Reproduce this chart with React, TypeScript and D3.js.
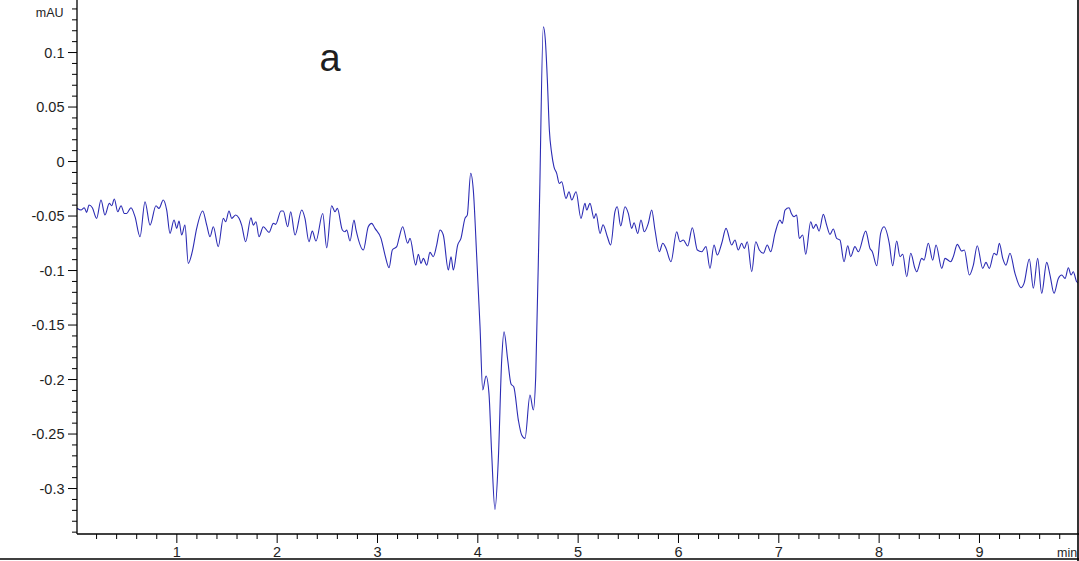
import React from "react";
import * as d3 from "d3";

// retention time (min)
const times: number[] = [
  0.005, 0.045, 0.078, 0.101, 0.125, 0.158, 0.201, 0.244, 0.284, 0.327, 0.351, 0.377, 0.411, 0.444, 0.477, 0.5,
  0.543, 0.583, 0.633, 0.683, 0.733, 0.792, 0.822, 0.865, 0.899, 0.932, 0.972, 0.999, 1.022, 1.048, 1.081, 1.114,
  1.154, 1.198, 1.258, 1.298, 1.331, 1.364, 1.413, 1.463, 1.487, 1.52, 1.547, 1.587, 1.62, 1.646, 1.686, 1.739,
  1.762, 1.789, 1.819, 1.862, 1.919, 1.962, 1.985, 2.038, 2.061, 2.105, 2.135, 2.178, 2.245, 2.277, 2.317, 2.35,
  2.387, 2.454, 2.494, 2.543, 2.577, 2.6, 2.65, 2.676, 2.693, 2.726, 2.766, 2.786, 2.859, 2.908, 2.942, 2.975,
  3.035, 3.075, 3.115, 3.148, 3.192, 3.214, 3.251, 3.301, 3.324, 3.381, 3.407, 3.434, 3.457, 3.491, 3.523, 3.556,
  3.59, 3.623, 3.656, 3.706, 3.733, 3.756, 3.799, 3.832, 3.872, 3.895, 3.929, 3.955, 3.989, 4.022, 4.049, 4.082,
  4.111, 4.138, 4.171, 4.204, 4.238, 4.261, 4.298, 4.331, 4.358, 4.404, 4.437, 4.47, 4.52, 4.553, 4.577, 4.615,
  4.653, 4.673, 4.693, 4.713, 4.736, 4.759, 4.786, 4.812, 4.836, 4.879, 4.909, 4.936, 4.979, 5.028, 5.068, 5.085,
  5.118, 5.158, 5.178, 5.218, 5.248, 5.291, 5.324, 5.367, 5.39, 5.424, 5.467, 5.5, 5.534, 5.557, 5.594, 5.626,
  5.659, 5.699, 5.733, 5.766, 5.809, 5.843, 5.876, 5.925, 5.982, 6.015, 6.048, 6.092, 6.138, 6.188, 6.231, 6.274,
  6.314, 6.354, 6.387, 6.431, 6.474, 6.53, 6.563, 6.596, 6.63, 6.656, 6.686, 6.73, 6.77, 6.806, 6.846, 6.885,
  6.919, 6.962, 7.011, 7.035, 7.062, 7.102, 7.125, 7.151, 7.178, 7.204, 7.238, 7.268, 7.318, 7.344, 7.371, 7.401,
  7.444, 7.477, 7.51, 7.543, 7.577, 7.61, 7.65, 7.687, 7.716, 7.759, 7.793, 7.866, 7.909, 7.932, 7.976, 8.015,
  8.048, 8.101, 8.135, 8.175, 8.208, 8.235, 8.275, 8.315, 8.357, 8.374, 8.424, 8.447, 8.49, 8.534, 8.567, 8.624,
  8.657, 8.713, 8.739, 8.779, 8.823, 8.849, 8.899, 8.939, 8.978, 9.032, 9.065, 9.098, 9.145, 9.172, 9.198, 9.232,
  9.264, 9.304, 9.354, 9.414, 9.444, 9.497, 9.537, 9.58, 9.62, 9.67, 9.703, 9.743, 9.786, 9.82, 9.853, 9.886,
  9.913, 9.935, 9.969, 10.0,
];

// absorbance (mAU)
const signal: number[] = [
  -0.0429, -0.0445, -0.0424, -0.0466, -0.0399, -0.0424, -0.0521, -0.0353, -0.0491, -0.0384, -0.0405, -0.0344, -0.046, -0.0405, -0.0476, -0.0476,
  -0.0424, -0.0506, -0.069, -0.0369, -0.0583, -0.0405, -0.043, -0.0353, -0.0445, -0.0659, -0.0537, -0.0613, -0.0546, -0.0674, -0.0583, -0.0934,
  -0.0827, -0.0613, -0.0454, -0.0583, -0.069, -0.0598, -0.0781, -0.0521, -0.0552, -0.0454, -0.0521, -0.0491, -0.0521, -0.0583, -0.0736, -0.0516,
  -0.0583, -0.0552, -0.069, -0.0598, -0.065, -0.0567, -0.0576, -0.0454, -0.0454, -0.0598, -0.046, -0.0674, -0.0445, -0.0521, -0.0736, -0.0638,
  -0.0729, -0.0476, -0.0791, -0.0405, -0.046, -0.043, -0.0628, -0.0644, -0.0628, -0.0729, -0.0537, -0.0628, -0.0812, -0.0598, -0.0567, -0.0613,
  -0.0705, -0.0858, -0.0974, -0.0812, -0.0781, -0.0705, -0.0598, -0.075, -0.0705, -0.095, -0.0851, -0.0934, -0.0888, -0.095, -0.0833, -0.0873,
  -0.0766, -0.0628, -0.0674, -0.0995, -0.0873, -0.0995, -0.0766, -0.0705, -0.0521, -0.0491, -0.0108, -0.0261, -0.0873, -0.1516, -0.2096, -0.1968,
  -0.2127, -0.2677, -0.3191, -0.2739, -0.1821, -0.1561, -0.1821, -0.2041, -0.2066, -0.2372, -0.2509, -0.254, -0.2142, -0.228, -0.1974, -0.037,
  0.1237, 0.1115, 0.0748, 0.0289, 0.0075, -0.0048, -0.0108, -0.02, -0.0185, -0.0338, -0.0277, -0.0353, -0.0277, -0.0521, -0.0384, -0.0445,
  -0.0384, -0.0521, -0.0476, -0.0659, -0.058, -0.069, -0.0766, -0.046, -0.0415, -0.0592, -0.0415, -0.0476, -0.0613, -0.0561, -0.0659, -0.0537,
  -0.0644, -0.0567, -0.0445, -0.0628, -0.0827, -0.075, -0.0797, -0.0919, -0.0644, -0.0736, -0.072, -0.0775, -0.0607, -0.0812, -0.0827, -0.0781,
  -0.098, -0.0766, -0.0858, -0.075, -0.0613, -0.0766, -0.072, -0.0812, -0.075, -0.0797, -0.0736, -0.1011, -0.0736, -0.0812, -0.0842, -0.0766,
  -0.0827, -0.0659, -0.0537, -0.0567, -0.0445, -0.0424, -0.0476, -0.0506, -0.0491, -0.0705, -0.0674, -0.0851, -0.0552, -0.0613, -0.0576, -0.0638,
  -0.0485, -0.0583, -0.0668, -0.0619, -0.0705, -0.072, -0.0919, -0.0772, -0.0873, -0.0781, -0.0827, -0.0638, -0.0797, -0.0827, -0.0956, -0.0659,
  -0.0598, -0.075, -0.0956, -0.0729, -0.0873, -0.0851, -0.1057, -0.0842, -0.098, -0.1011, -0.0888, -0.0904, -0.075, -0.0904, -0.0766, -0.098,
  -0.0888, -0.0919, -0.0873, -0.076, -0.0821, -0.0812, -0.1041, -0.095, -0.0772, -0.098, -0.0925, -0.098, -0.0842, -0.0858, -0.075, -0.0888,
  -0.095, -0.0842, -0.1026, -0.1158, -0.1118, -0.0894, -0.1163, -0.0888, -0.1209, -0.0925, -0.1041, -0.1209, -0.1072, -0.1041, -0.1072, -0.0974,
  -0.1041, -0.1011, -0.1103, -0.112,
];

const xMajorTicks: number[] = [1, 2, 3, 4, 5, 6, 7, 8, 9];
const yMajorTicks: number[] = [0.1, 0.05, 0, -0.05, -0.1, -0.15, -0.2, -0.25, -0.3];
const yTickLabels: string[] = ["0.1", "0.05", "0", "-0.05", "-0.1", "-0.15", "-0.2", "-0.25", "-0.3"];
const xUnit = "min";
const yUnit = "mAU";
const panelLabel = "a";

const W = 1079;
const H = 561;
const axisX = 77;
const axisY = 534;

export default function App() {
  const x = d3.scaleLinear().domain([0, 10]).range([76.5, 1079.8]);
  const y = d3.scaleLinear().domain([-0.3417, 0.1482]).range([axisY, 0]);

  const pts: [number, number][] = times.map((t, i) => [t, signal[i]]);
  const line = d3
    .line<[number, number]>()
    .x((d) => x(d[0]))
    .y((d) => y(d[1]))
    .curve(d3.curveMonotoneX);

  const xMinor = d3.range(1, 50).map((i) => i * 0.2).filter((v) => Math.abs(v - Math.round(v)) > 1e-6);
  const yMinor = d3.range(-34, 15).map((i) => i / 100).filter((v) => Math.abs(v * 20 - Math.round(v * 20)) > 1e-6);

  const font = "Arial, 'Liberation Sans', Helvetica, sans-serif";
  const textColor = "#1e1e1e";

  return (
    <svg
      width={W}
      height={H}
      style={{ position: "absolute", left: 0, top: 0, background: "#fff" }}
      fontFamily={font}
    >
      <rect x={0} y={0} width={W} height={H} fill="#fff" />
      <defs>
        <clipPath id="plotclip">
          <rect x={axisX} y={0} width={1078 - axisX} height={axisY} />
        </clipPath>
      </defs>

      {/* trace */}
      <path d={line(pts) || ""} fill="none" stroke="#2c2cb4" strokeWidth={1.1} clipPath="url(#plotclip)" />

      {/* y axis */}
      <line x1={axisX} x2={axisX} y1={0} y2={axisY} stroke="#000" strokeWidth={1.3} />
      {yMinor.map((v, i) => (
        <line key={"ym" + i} x1={axisX - 5} x2={axisX} y1={y(v)} y2={y(v)} stroke="#000" strokeWidth={1} />
      ))}
      {yMajorTicks.map((v, i) => (
        <g key={"yM" + i}>
          <line x1={axisX - 9} x2={axisX} y1={y(v)} y2={y(v)} stroke="#000" strokeWidth={1} />
          <text x={64.5} y={y(v)} dy="0.36em" textAnchor="end" fontSize={14.5} fill={textColor}>
            {yTickLabels[i]}
          </text>
        </g>
      ))}
      <text x={63.5} y={17} textAnchor="end" fontSize={12.5} fill={textColor}>
        {yUnit}
      </text>

      {/* x axis */}
      <line x1={axisX} x2={W} y1={axisY} y2={axisY} stroke="#000" strokeWidth={1.3} />
      {xMinor.map((v, i) => (
        <line key={"xm" + i} x1={x(v)} x2={x(v)} y1={axisY} y2={axisY + 5} stroke="#000" strokeWidth={1} />
      ))}
      {xMajorTicks.map((v, i) => (
        <g key={"xM" + i}>
          <line x1={x(v)} x2={x(v)} y1={axisY} y2={axisY + 9} stroke="#000" strokeWidth={1} />
          <text x={x(v)} y={557} textAnchor="middle" fontSize={14.5} fill={textColor}>
            {String(v)}
          </text>
        </g>
      ))}
      <text x={1057} y={557} fontSize={12.5} fill={textColor}>
        {xUnit}
      </text>

      {/* panel label */}
      <text x={319.5} y={71} fontSize={38} fill={textColor}>
        {panelLabel}
      </text>

      {/* frame */}
      <line x1={0} x2={W} y1={559} y2={559} stroke="#000" strokeWidth={1.6} />
      <line x1={1078} x2={1078} y1={0} y2={H} stroke="#000" strokeWidth={1.6} />
    </svg>
  );
}
